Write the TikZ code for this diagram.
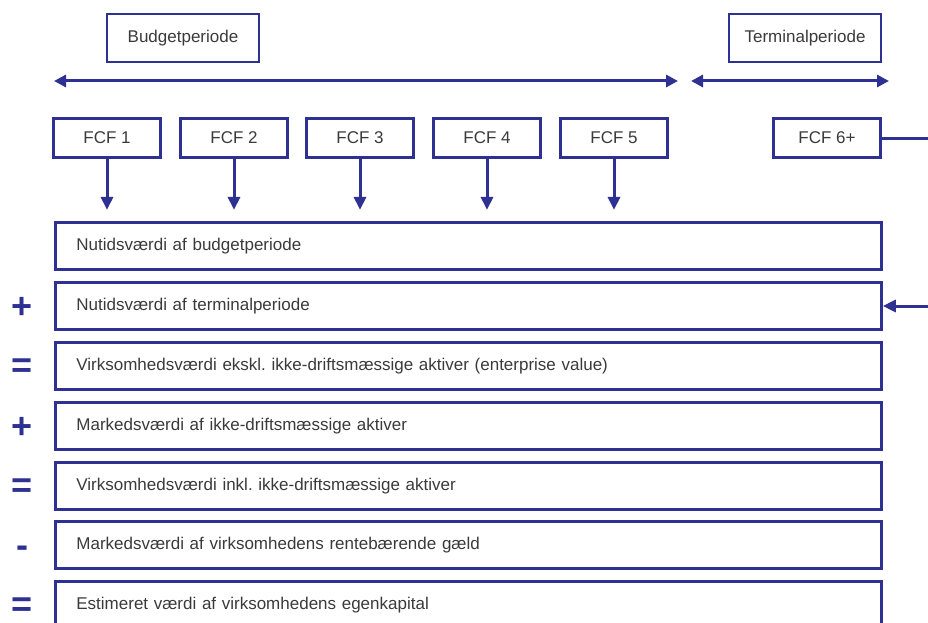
\documentclass[tikz,border=0pt]{standalone}
\usepackage{fontspec}
\setmainfont{Liberation Sans}
\usetikzlibrary{arrows.meta}
\frenchspacing

\definecolor{navy}{HTML}{2E3192}
\definecolor{txtgray}{HTML}{3A3A3A}

\tikzset{
    box/.style={draw=navy, line width=2.8pt, inner sep=0pt, text=txtgray, font=\fontsize{17}{20}\selectfont},
    headbox/.style={box, minimum width=152pt, minimum height=48pt},
    fcfbox/.style={box, minimum width=107pt, minimum height=39pt},
    rowbox/.style={box, minimum width=826pt, minimum height=47pt, anchor=west, text width=784pt, align=left},
    op/.style={text=navy, font=\fontsize{36}{36}\selectfont\bfseries, inner sep=0pt},
    flow/.style={draw=navy, line width=3pt, -{Triangle[length=13pt, width=12pt]}},
    span/.style={draw=navy, line width=3pt, {Triangle[length=12pt, width=12pt]}-{Triangle[length=12pt, width=12pt]}}
}

\begin{document}
\begin{tikzpicture}[x=1pt, y=-1pt]
        \useasboundingbox (0, 0) rectangle (928, 623);
        \clip (0, 0) rectangle (928, 623);

        % periods
        \node[headbox] (budget) at (183, 38) {Budgetperiode};
        \node[headbox] (terminal) at (805, 38) {Terminalperiode};
        \coordinate (bl) at (54, 81);
        \coordinate (br) at (678, 81);
        \coordinate (tl) at (691, 81);
        \coordinate (tr) at (889, 81);
        \draw[span] (bl) -- (br);
        \draw[span] (tl) -- (tr);

        % free cash flows
        \node[fcfbox] (fcf1) at (107, 138) {FCF 1};
        \node[fcfbox] (fcf2) at (234, 138) {FCF 2};
        \node[fcfbox] (fcf3) at (360, 138) {FCF 3};
        \node[fcfbox] (fcf4) at (487, 138) {FCF 4};
        \node[fcfbox] (fcf5) at (614, 138) {FCF 5};
        \node[fcfbox] (fcf6) at (827, 138) {FCF 6+};

        % value bridge
        \node[rowbox] (pvb) at (54, 246) {Nutidsværdi af budgetperiode};
        \node[rowbox] (pvt) at (54, 306) {Nutidsværdi af terminalperiode};
        \node[rowbox] (ev) at (54, 366) {Virksomhedsværdi ekskl. ikke-driftsmæssige aktiver (enterprise value)};
        \node[rowbox] (nda) at (54, 426) {Markedsværdi af ikke-driftsmæssige aktiver};
        \node[rowbox] (evi) at (54, 486) {Virksomhedsværdi inkl. ikke-driftsmæssige aktiver};
        \node[rowbox] (debt) at (54, 545) {Markedsværdi af virksomhedens rentebærende gæld};
        \node[rowbox] (equity) at (54, 605) {Estimeret værdi af virksomhedens egenkapital};

        \node[op] (op2) at (22, 308) {+};
        \node[op] (op3) at (22, 368) {=};
        \node[op] (op4) at (22, 428) {+};
        \node[op] (op5) at (22, 488) {=};
        \node[op] (op6) at (22, 552) {-};
        \node[op] (op7) at (22, 607) {=};

        \draw[flow] (fcf1.south) -- ++(0, 51);
        \draw[flow] (fcf2.south) -- ++(0, 51);
        \draw[flow] (fcf3.south) -- ++(0, 51);
        \draw[flow] (fcf4.south) -- ++(0, 51);
        \draw[flow] (fcf5.south) -- ++(0, 51);
        \coordinate (turn) at (945, 138);
        \draw[flow] (fcf6.east) -- (turn) |- (pvt.east);
\end{tikzpicture}
\end{document}
